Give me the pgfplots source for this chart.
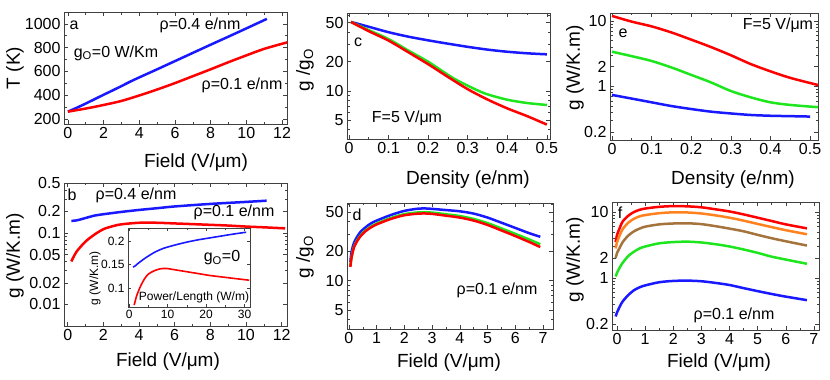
\documentclass[border=0pt]{standalone}
\usepackage{fontspec}
\setmainfont{Liberation Sans}
\usepackage{pgfplots}
\pgfplotsset{compat=1.18}

\definecolor{cBlue}{RGB}{25,25,255}
\definecolor{cRed}{RGB}{255,0,0}
\definecolor{cGreen}{RGB}{30,230,30}
\definecolor{cOrange}{RGB}{255,130,30}
\definecolor{cBrown}{RGB}{165,115,60}

\newcommand{\tk}{\fontsize{16bp}{19bp}\selectfont}
\newcommand{\lb}{\fontsize{19bp}{22bp}\selectfont}
\newcommand{\an}{\fontsize{16bp}{19bp}\selectfont}
\newcommand{\sm}{\fontsize{12bp}{14bp}\selectfont}
\newcommand{\go}{g\textsubscript{O}}

\pgfplotsset{
  panel/.style={scale only axis, anchor=north west, no markers,
    axis line style={black!75, line width=0.8bp},
    every tick/.style={black!75, line width=0.6bp},
    major tick length=4bp, minor tick length=2.5bp,
    tick label style={font=\tk},
    /pgf/number format/assume math mode=true,
    /pgf/number format/1000 sep={},
    every axis plot/.append style={line width=2.5bp, smooth, tension=0.5}},
  logc/.style={ytick={5,10,20,50}, yticklabels={5,10,20,50},
    minor ytick={4,6,7,8,9,30,40,60}},
  loge/.style={ytick={0.2,1,2,10}, yticklabels={0.2,1,2,10},
    minor ytick={0.3,0.4,0.5,0.6,0.7,0.8,0.9,3,4,5,6,7,8,9}},
}

\begin{document}
\begin{tikzpicture}
\path[use as bounding box] (0,0) rectangle (830bp,-380bp);

% ---- a ----
\begin{axis}[panel, at={(64bp,-12bp)}, width=223bp, height=112bp,
  xmin=-0.22, xmax=12.28, ymin=158, ymax=1100,
  xtick={0,2,...,12}, ytick={200,400,...,1000}, minor x tick num=1, minor y tick num=1]
\addplot[cBlue] coordinates {(0,262) (0.5,295) (1,330) (1.5,367) (2,404) (2.5,440) (3,477) (3.5,515) (4,550) (5,618) (6,687) (7,756) (8,825) (9,893) (10,962) (11.15,1042)};
\addplot[cRed] coordinates {(0,262) (1,288) (2,318) (3,352) (4,398) (5,448) (6,502) (7,560) (8,618) (9,678) (10,735) (11,790) (12.3,845)};
\end{axis}

% ---- b ----
\begin{semilogyaxis}[panel, at={(64bp,-183bp)}, width=223bp, height=143bp,
  xmin=-0.21, xmax=12.3, ymin=0.005, ymax=0.5,
  xtick={0,2,...,12}, minor x tick num=1,
  ytick={0.01,0.02,0.05,0.1,0.2,0.5}, yticklabels={0.01,0.02,0.05,0.1,0.2,0.5},
  minor ytick={0.03,0.04,0.06,0.07,0.08,0.09,0.3,0.4}]
\addplot[cBlue] coordinates {(0.2,0.148) (0.5,0.15) (1,0.162) (1.5,0.175) (2,0.183) (3,0.197) (4,0.21) (5,0.222) (6,0.235) (8,0.255) (10,0.272) (11.16,0.283)};
\addplot[cRed] coordinates {(0.2,0.04) (0.5,0.055) (1,0.076) (1.5,0.095) (2,0.113) (2.5,0.124) (3,0.132) (4,0.139) (5,0.139) (6,0.136) (7,0.133) (8,0.13) (9,0.127) (10,0.123) (11,0.12) (12.2,0.116)};
\end{semilogyaxis}

% ---- inset ----
\begin{axis}[panel, at={(128bp,-228bp)}, width=122bp, height=79bp,
  xmin=-0.3, xmax=31.4, ymin=0.06, ymax=0.228,
  xtick={0,10,20,30}, ytick={0.1,0.15,0.2}, yticklabels={0.1,0.15,0.2},
  minor x tick num=1, tick label style={font=\sm},
  major tick length=3bp, minor tick length=2bp,
  every axis plot/.append style={line width=1.6bp}]
\addplot[cBlue] coordinates {(1,0.145) (1.5,0.147) (2.5,0.154) (4,0.163) (5.5,0.171) (7,0.178) (9,0.185) (12,0.192) (15,0.198) (18,0.203) (21,0.207) (24,0.211) (27,0.215) (30.4,0.219)};
\addplot[cRed] coordinates {(1.3,0.064) (2,0.085) (3,0.105) (4,0.12) (5,0.13) (6.5,0.137) (8,0.141) (9.6,0.142) (12,0.139) (15,0.135) (18,0.131) (21,0.127) (24,0.124) (27,0.121) (31.2,0.117)};
\end{axis}

% ---- c ----
\begin{semilogyaxis}[panel, logc, at={(347bp,-13bp)}, width=203bp, height=126bp,
  xmin=-0.005, xmax=0.508, ymin=3.2, ymax=63,
  xtick={0,0.1,...,0.5}, xticklabels={0,0.1,0.2,0.3,0.4,0.5}, minor x tick num=1]
\addplot[cBlue] coordinates {(0.005,51) (0.05,45.5) (0.1,40) (0.15,36) (0.2,33) (0.25,30.5) (0.3,28.3) (0.35,26.5) (0.4,25.2) (0.45,24.3) (0.5,23.7)};
\addplot[cGreen] coordinates {(0.005,51) (0.05,42) (0.1,34) (0.15,25.9) (0.2,19.9) (0.25,14.6) (0.275,12.7) (0.3,11.3) (0.325,10.1) (0.35,9.2) (0.4,8.1) (0.45,7.5) (0.5,7.15)};
\addplot[cRed] coordinates {(0.005,51) (0.05,41) (0.1,32.8) (0.15,24.9) (0.2,18.8) (0.25,13.9) (0.3,10.4) (0.35,8.15) (0.4,6.6) (0.45,5.5) (0.5,4.5)};
\end{semilogyaxis}

% ---- d ----
\begin{semilogyaxis}[panel, logc, at={(347bp,-203bp)}, width=206bp, height=126bp,
  xmin=-0.07, xmax=7.36, ymin=3.2, ymax=62,
  xtick={0,1,...,7}, minor x tick num=1]
\addplot[cBlue] coordinates {(0.05,15.5) (0.1,20) (0.2,25) (0.4,31) (0.6,35) (0.8,38.5) (1,41) (1.5,46.6) (2,51.5) (2.5,54.3) (2.7,54.6) (3,54) (3.5,52.5) (4,51) (4.5,48.3) (5,44) (5.5,39) (6,34.5) (6.5,30.5) (6.9,28)};
\addplot[cGreen] coordinates {(0.05,14) (0.1,17.8) (0.2,22.9) (0.4,28.5) (0.6,32.6) (0.8,35.7) (1,38.3) (1.5,43.5) (2,47.7) (2.5,49.7) (2.7,49.9) (3,49.5) (3.5,47.6) (4,45.6) (4.5,42.6) (5,38.6) (5.5,34.1) (6,30) (6.5,26.3) (6.9,23.5)};
\addplot[cRed] coordinates {(0.05,13.8) (0.1,17.5) (0.2,22.5) (0.4,28) (0.6,32) (0.8,35) (1,37.5) (1.5,42.5) (2,46.5) (2.5,48.3) (2.7,48.5) (3,48) (3.5,46) (4,44) (4.5,41) (5,37) (5.5,32.5) (6,28.5) (6.5,24.8) (6.9,22)};
\end{semilogyaxis}

% ---- e ----
\begin{semilogyaxis}[panel, loge, at={(610bp,-13bp)}, width=208bp, height=127bp,
  xmin=-0.005, xmax=0.52, ymin=0.151, ymax=13.3,
  xtick={0,0.1,...,0.5}, xticklabels={0,0.1,0.2,0.3,0.4,0.5}, minor x tick num=1]
\addplot[cRed] coordinates {(0,12) (0.05,9.8) (0.1,8.3) (0.15,6.7) (0.2,5.2) (0.25,4.0) (0.3,3.0) (0.35,2.2) (0.4,1.7) (0.45,1.35) (0.52,1.05)};
\addplot[cGreen] coordinates {(0,3.4) (0.05,2.9) (0.1,2.45) (0.15,1.95) (0.2,1.5) (0.25,1.15) (0.3,0.85) (0.35,0.68) (0.4,0.57) (0.45,0.52) (0.52,0.48)};
\addplot[cBlue] coordinates {(0,0.74) (0.05,0.65) (0.1,0.57) (0.15,0.5) (0.2,0.45) (0.25,0.41) (0.3,0.385) (0.35,0.365) (0.4,0.355) (0.45,0.35) (0.5,0.345)};
\end{semilogyaxis}

% ---- f ----
\begin{semilogyaxis}[panel, loge, at={(612bp,-202bp)}, width=207bp, height=128bp,
  xmin=-0.18, xmax=7.18, ymin=0.162, ymax=14.2,
  xtick={0,1,...,7}, minor x tick num=1]
\addplot[cRed] coordinates {(-0.05,3.5) (0,4.5) (0.1,5.8) (0.2,7.2) (0.4,8.8) (0.6,10) (0.8,10.8) (1,11.3) (1.5,12) (2,12.3) (2.5,12.2) (3,11.8) (3.5,11) (4,10.2) (4.5,9.2) (5,8.2) (5.5,7.3) (6,6.5) (6.75,5.65)};
\addplot[cOrange] coordinates {(-0.05,2.8) (0,3.5) (0.1,4.5) (0.2,5.5) (0.4,6.9) (0.6,7.9) (0.8,8.6) (1,9.0) (1.5,9.6) (2,9.9) (2.5,9.85) (3,9.5) (3.5,8.9) (4,8.2) (4.5,7.4) (5,6.6) (5.5,5.9) (6,5.3) (6.75,4.6)};
\addplot[cBrown] coordinates {(-0.05,2.0) (0,2.4) (0.1,2.9) (0.2,3.5) (0.4,4.4) (0.6,5.1) (0.8,5.6) (1,6.0) (1.5,6.5) (2,6.7) (2.5,6.75) (3,6.55) (3.5,6.1) (4,5.6) (4.5,5.1) (5,4.5) (5.5,4.0) (6,3.6) (6.75,3.1)};
\addplot[cGreen] coordinates {(-0.05,1.05) (0,1.2) (0.1,1.45) (0.2,1.7) (0.4,2.15) (0.6,2.5) (0.8,2.8) (1,3.0) (1.5,3.35) (2,3.5) (2.5,3.55) (3,3.45) (3.5,3.25) (4,3.0) (4.5,2.7) (5,2.4) (5.5,2.1) (6,1.9) (6.75,1.64)};
\addplot[cBlue] coordinates {(-0.05,0.26) (0,0.3) (0.1,0.37) (0.2,0.44) (0.4,0.55) (0.6,0.65) (0.8,0.72) (1,0.77) (1.5,0.86) (2,0.9) (2.5,0.91) (3,0.89) (3.5,0.84) (4,0.78) (4.5,0.7) (5,0.63) (5.5,0.57) (6,0.52) (6.75,0.46)};
\end{semilogyaxis}

% axis labels
\node[font=\lb] at (196bp,-163bp) {Field (V/μm)};
\node[font=\lb, rotate=90] at (15bp,-68bp) {T (K)};
\node[font=\lb] at (168bp,-362bp) {Field (V/μm)};
\node[font=\lb, rotate=90] at (15bp,-256bp) {g (W/K.m)};
\node[font=\sm, rotate=90] at (95bp,-278bp) {g (W/K.m)};
\node[font=\lb] at (468bp,-180bp) {Density (e/nm)};
\node[font=\lb, rotate=90] at (305bp,-70bp) {g /\go};
\node[font=\lb] at (449bp,-363bp) {Field (V/μm)};
\node[font=\lb, rotate=90] at (305bp,-257bp) {g /\go};
\node[font=\lb] at (733bp,-180bp) {Density (e/nm)};
\node[font=\lb, rotate=90] at (575bp,-68bp) {g (W/K.m)};
\node[font=\lb] at (719bp,-363bp) {Field (V/μm)};
\node[font=\lb, rotate=90] at (575bp,-260bp) {g (W/K.m)};

% annotations
\node[font=\an] at (74bp,-25bp) {a};
\node[font=\an] at (200bp,-25bp) {ρ=0.4 e/nm};
\node[font=\an] at (116bp,-53bp) {\go=0 W/Km};
\node[font=\an] at (242bp,-85bp) {ρ=0.1 e/nm};
\node[font=\an] at (72bp,-195bp) {b};
\node[font=\an] at (136bp,-195bp) {ρ=0.4 e/nm};
\node[font=\an] at (234bp,-212bp) {ρ=0.1 e/nm};
\node[font=\an] at (222bp,-258bp) {\go=0};
\node[font=\sm] at (194bp,-297bp) {Power/Length (W/m)};
\node[font=\an] at (358bp,-42bp) {c};
\node[font=\an] at (407bp,-118bp) {F=5 V/μm};
\node[font=\an] at (357bp,-215bp) {d};
\node[font=\an] at (497bp,-290bp) {ρ=0.1 e/nm};
\node[font=\an] at (623bp,-33bp) {e};
\node[font=\an] at (778bp,-25bp) {F=5 V/μm};
\node[font=\an] at (620bp,-213bp) {f};
\node[font=\an] at (734bp,-315bp) {ρ=0.1 e/nm};
\end{tikzpicture}
\end{document}
